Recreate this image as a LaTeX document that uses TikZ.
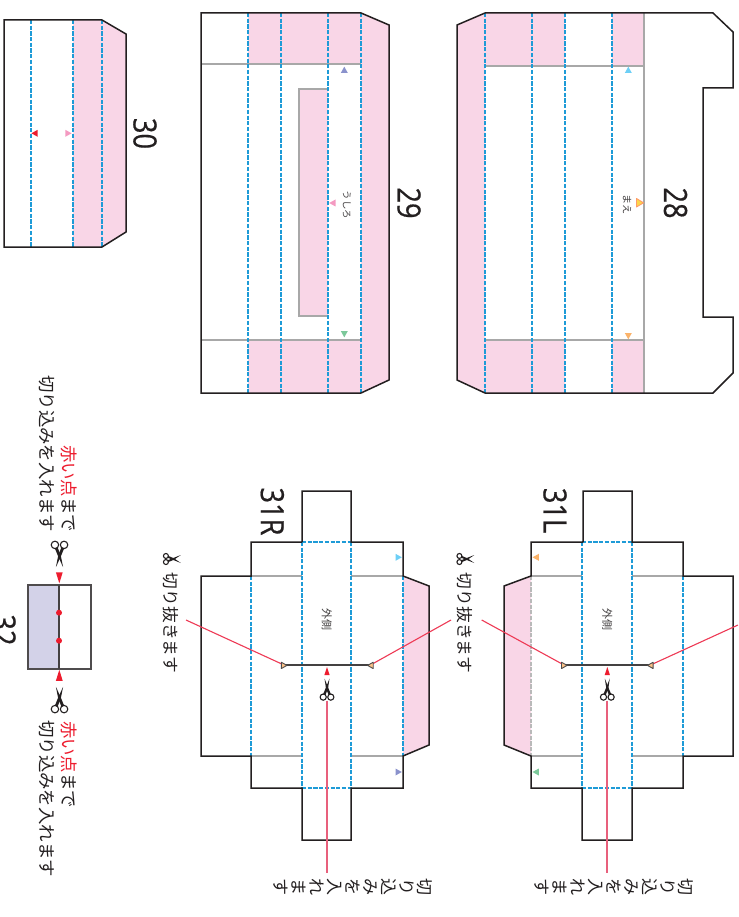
\documentclass[tikz,border=0pt]{standalone}
\usepackage{graphicx}
\usepackage{fontspec}
\setmainfont{Open Sans}
\newfontfamily\numfont[FakeBold=0.6]{Open Sans}
\newfontfamily\jp{Noto Sans CJK JP}
\definecolor{pinkf}{HTML}{F9D6E7}
\definecolor{foldblue}{HTML}{1E9BD7}
\definecolor{creasegray}{HTML}{A8A8A8}
\definecolor{ink}{HTML}{231F20}
\definecolor{redm}{HTML}{ED1C2E}
\definecolor{redl}{HTML}{EE3A55}
\definecolor{redv}{HTML}{E8607C}
\definecolor{lav}{HTML}{D3D2E8}
\definecolor{tcyan}{HTML}{6DCFF6}
\definecolor{torange}{HTML}{FBB36A}
\definecolor{tblue}{HTML}{8A92CC}
\definecolor{tgreen}{HTML}{7CC89A}
\definecolor{tpink}{HTML}{F49AC1}
\tikzset{
  outline/.style={draw=ink,line width=1.5pt,line join=miter},
  foldline/.style={draw=foldblue,line width=1.2pt,dash pattern=on 4.2pt off 1.5pt},
  foldpale/.style={draw=creasegray!80,line width=1.2pt,dash pattern=on 4.2pt off 1.5pt},
  crease/.style={draw=creasegray,line width=1.2pt},
  pinkarea/.style={fill=pinkf},
  leader/.style={draw=redl,line width=1.1pt},
  vleader/.style={draw=redv,line width=1.2pt},
  cutline/.style={draw=ink!85,line width=1.2pt},
  bignum/.style={inner sep=0,text=ink,rotate=-90,font=\numfont\fontsize{32}{32}\selectfont},
  small/.style={inner sep=0,text=ink!85,rotate=-90,font=\jp\fontsize{#1}{#1}\selectfont},
  jpside/.style={inner sep=0,text=ink,rotate=-90,font=\jp\fontsize{16.7}{17}\selectfont},
  jplong/.style={inner sep=0,text=ink,rotate=-90,font=\jp\fontsize{17.4}{18}\selectfont},
  jpvert/.style={inner sep=0,text=ink,rotate=-90,align=center,font=\jp\fontsize{17}{17.9}\selectfont},
}
% colour, x, y, rotation (0 = apex up, -90 = right, 90 = left, 180 = down)
\newcommand\marktri[4]{\fill[#1,shift={(#2,#3)},rotate=#4] (0,-3.3) -- (3.5,3) -- (-3.5,3) -- cycle;}
\newcommand\cuttri[3]{\filldraw[fill=torange!80,draw=ink!80,line width=.9pt,line join=round,shift={(#1,#2)},rotate=#3] (0,-2.9) -- (3.2,2.7) -- (-3.2,2.7) -- cycle;}
\newcommand\redtri[5]{\fill[redm,shift={(#1,#2)},rotate=#3] (0,-#5) -- (#4,#5) -- (-#4,#5) -- cycle;}
% scissors: x, y, rotation (0 = tips up), scale, spread
\newcommand\sciss[5]{\begin{scope}[shift={(#1,#2)},rotate=#3,scale=#4]
  \draw[ink,line width=1.1pt] (-3.8,7.6) circle (3.1);
  \draw[ink,line width=1.1pt] (3.8,7.6) circle (3.1);
  \fill[ink] (-3.9,4.8) -- (-1.6,5.5) -- (1.0,-1) -- (#5,-11) -- (-0.9,-2.5) -- cycle;
  \fill[ink] (3.9,4.8) -- (1.6,5.5) -- (-1.0,-1) -- (-#5,-11) -- (0.9,-2.5) -- cycle;
\end{scope}}
\begin{document}
\begin{tikzpicture}[x=1pt,y=-1pt]
\useasboundingbox[fill=white] (0,0) rectangle (738,917);

% ---------- 28 ----------
\fill[pinkarea] (457,25) -- (485,13) -- (485,393) -- (457,380) -- cycle;
\fill[pinkarea] (485,13) rectangle (565,66);
\fill[pinkarea] (485,340) rectangle (565,393);
\fill[pinkarea] (612,13) rectangle (644,66);
\fill[pinkarea] (612,340) rectangle (644,393);
\draw[crease] (644,13) -- (644,393);
\draw[crease] (485,66) -- (644,66);
\draw[crease] (485,340) -- (644,340);
\foreach \x in {485,532,565,612} \draw[foldline] (\x,13) -- (\x,393);
\draw[outline] (457,25) -- (485,13) -- (713,13) -- (733,32) -- (733,88) -- (703,88) -- (703,317) -- (733,317) -- (733,373) -- (713,393) -- (485,393) -- (457,380) -- cycle;
\marktri{tcyan}{628.3}{70}{0}
\marktri{torange}{628.3}{336}{180}
\filldraw[fill=yellow!60!orange!70,draw=orange!70!red!60,line width=.9pt,line join=round] (636.5,198.5) -- (643.5,202.8) -- (636.5,207) -- cycle;
\node[small=10] (maelabel) at (627,205) {まえ};
\node[bignum] (n28) at (675.5,203) {\scalebox{.85}[1]{28}};

% ---------- 29 ----------
\fill[pinkarea] (361,13) -- (389,25) -- (389,380) -- (361,393) -- cycle;
\fill[pinkarea] (248,13) rectangle (361,64);
\fill[pinkarea] (248,340) rectangle (361,393);
\filldraw[pinkarea,draw=creasegray,line width=1.2pt] (328,89) -- (299,89) -- (299,316) -- (328,316);
\draw[crease] (201,64) -- (361,64);
\draw[crease] (201,340) -- (361,340);
\foreach \x in {248,281,328,361} \draw[foldline] (\x,13) -- (\x,393);
\draw[outline] (361,13) -- (389,25) -- (389,380) -- (361,393) -- (201,393) -- (201,13) -- cycle;
\marktri{tblue}{344.3}{70}{0}
\marktri{tgreen}{344.3}{334}{180}
\marktri{tpink}{332.5}{203}{90}
\node[small=9.5] (ushirolabel) at (346.7,205) {うしろ};
\node[bignum] (n29) at (409,203) {\scalebox{.85}[1]{29}};

% ---------- 30 ----------
\fill[pinkarea] (73,20) -- (102,20) -- (126,34) -- (126,232) -- (102,247) -- (73,247) -- cycle;
\foreach \x in {31,73,102} \draw[foldline] (\x,20) -- (\x,247);
\draw[outline] (4,20) -- (102,20) -- (126,34) -- (126,232) -- (102,247) -- (4,247) -- cycle;
\marktri{redm}{34.7}{133.3}{90}
\marktri{tpink}{68.3}{133.3}{-90}
\node[bignum] (n30) at (145,133.5) {\scalebox{.85}[1]{30}};

% ---------- 31L ----------
\fill[pinkarea] (531,576) -- (504,586) -- (504,745) -- (531,756) -- cycle;
\draw[crease] (531,576) -- (582,576) (632,576) -- (683,576);
\draw[crease] (531,756) -- (582,756) (632,756) -- (683,756);
\draw[foldpale] (531,576) -- (531,756);
\foreach \x in {582,632} \draw[foldline] (\x,542) -- (\x,788);
\draw[foldline] (683,576) -- (683,756);
\draw[foldline] (582,542) -- (632,542);
\draw[foldline] (582,788) -- (632,788);
\draw[outline] (583,542) -- (583,491) -- (632,491) -- (632,542) -- (683,542) -- (683,576) -- (733,576) -- (733,756) -- (683,756) -- (683,788) -- (632,788) -- (632,840) -- (582,840) -- (582,788) -- (531,788) -- (531,756) -- (504,745) -- (504,586) -- (531,576) -- (531,542) -- (583,542);
\marktri{torange}{535.8}{557.3}{90}
\marktri{tgreen}{535.8}{772}{90}
\node[small=11] (outL) at (607.3,619) {外側};
\node[bignum] (n31L) at (555,510.5) {\scalebox{.85}[1]{31L}};
\coordinate (lcutA) at (564,665);
\coordinate (lcutB) at (650.5,665);
\draw[cutline] (lcutA) -- (lcutB);
\node[jpside] (lsideL) at (465,623) {切り抜きます};
\coordinate (lA) at (481.7,620);
\coordinate (lB) at (738,625);
\draw[leader] (lA) -- (lcutA);
\draw[leader] (lB) -- (lcutB);
\cuttri{564.2}{665.4}{-90}
\cuttri{650.4}{665.4}{90}
\redtri{607.3}{671}{0}{2.6}{4}
\sciss{607.3}{689.5}{0}{1}{2.5}
\sciss{465.5}{559}{-90}{.8}{5}
\coordinate (lV) at (607,873.3);
\draw[vleader] (607,700.5) -- (lV);
\node[jpvert] (ltxt) at (614,887) {切\\り\\込\\み\\を\\入\\れ\\ま\\す};

% ---------- 31R ----------
\fill[pinkarea] (403,576) -- (429,586) -- (429,745) -- (403,756) -- cycle;
\draw[crease] (251,576) -- (302,576) (351,576) -- (403,576);
\draw[crease] (251,756) -- (302,756) (351,756) -- (403,756);
\draw[foldline] (251,576) -- (251,756);
\draw[foldline] (403,576) -- (403,756);
\foreach \x in {302,351} \draw[foldline] (\x,542) -- (\x,788);
\draw[foldline] (302,542) -- (351,542);
\draw[foldline] (302,788) -- (351,788);
\draw[outline] (302,542) -- (302,491) -- (351,491) -- (351,542) -- (403,542) -- (403,576) -- (429,586) -- (429,745) -- (403,756) -- (403,788) -- (351,788) -- (351,840) -- (302,840) -- (302,788) -- (251,788) -- (251,756) -- (201,756) -- (201,576) -- (251,576) -- (251,542) -- (302,542);
\marktri{tcyan}{398.5}{557.3}{-90}
\marktri{tblue}{398.5}{772}{-90}
\node[small=11] (outR) at (326.7,619) {外側};
\node[bignum] (n31R) at (272.3,511.5) {\scalebox{.85}[1]{31R}};
\coordinate (rcutA) at (284,665);
\coordinate (rcutB) at (370.5,665);
\draw[cutline] (rcutA) -- (rcutB);
\node[jpside] (rsideL) at (171,623) {切り抜きます};
\coordinate (rA) at (186,620);
\coordinate (rB) at (451,620);
\draw[leader] (rA) -- (rcutA);
\draw[leader] (rB) -- (rcutB);
\cuttri{284}{665.4}{-90}
\cuttri{370.5}{665.4}{90}
\redtri{327}{671}{0}{2.6}{4}
\sciss{327}{689.5}{0}{1}{2.5}
\sciss{172}{559}{-90}{.8}{5}
\coordinate (rV) at (327,873.3);
\draw[vleader] (327,700.5) -- (rV);
\node[jpvert] (rtxt) at (353,887) {切\\り\\込\\み\\を\\入\\れ\\ま\\す};

% ---------- 32 ----------
\fill[lav] (28,585) rectangle (59,669);
\draw[draw=ink!80,line width=1.2pt] (28,585) rectangle (91,669);
\draw[cutline] (59,585) -- (59,669);
\fill[redm] (59,612.7) circle (3);
\fill[redm] (59,640.7) circle (3);
\redtri{59.3}{577.8}{180}{3.4}{5.5}
\redtri{59.3}{675.3}{0}{3.4}{5.5}
\sciss{59.5}{554}{180}{1.2}{3}
\sciss{59.5}{700}{0}{1.2}{3}
\node[bignum] (n32) at (4,630) {\scalebox{.85}[1]{32}};
\node[jplong] (topA) at (46.7,453.5) {切り込みを入れます};
\node[jplong] (topB) at (69.5,488.5) {\color{redm}赤い点\color{ink}まで};
\node[jplong] (botA) at (46.7,798.5) {切り込みを入れます};
\node[jplong] (botB) at (69.5,764.5) {\color{redm}赤い点\color{ink}まで};
\end{tikzpicture}
\end{document}
